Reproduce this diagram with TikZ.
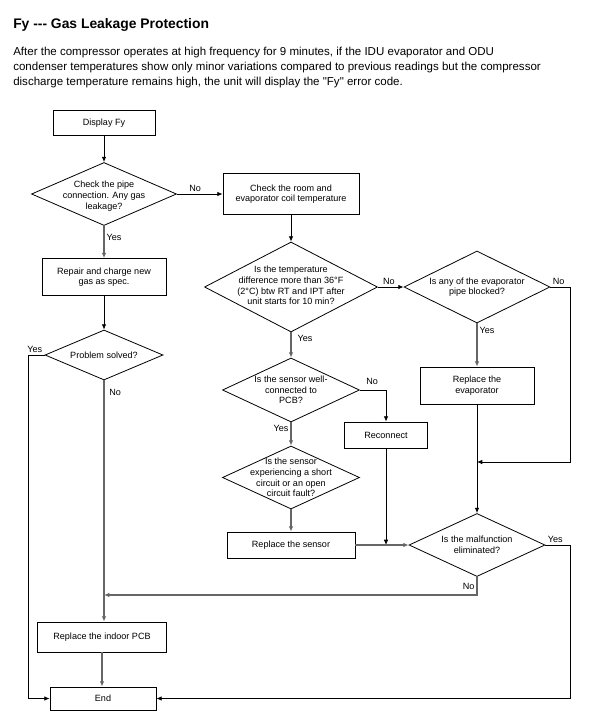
\documentclass[tikz,border=0pt]{standalone}
\usepackage{fontspec}
\setmainfont{Liberation Sans}
\usetikzlibrary{shapes.geometric, arrows.meta, positioning}

\newcommand{\chartfont}{\fontsize{6.8}{8}\selectfont}

\tikzset{
    stepbox/.style={rectangle, draw, line width=0.6pt, font=\chartfont, align=center, inner sep=1pt},
    decision/.style={diamond, draw, line width=0.6pt, inner sep=0pt},
    dtext/.style={font=\chartfont, align=center, inner sep=0pt},
    line/.style={line width=0.6pt, draw=black},
    gline/.style={line width=0.9pt, draw=black!60},
    arr/.style={line, -{Latex[length=4pt,width=3.4pt]}},
    garr/.style={gline, -{Latex[length=4pt,width=3.4pt]}},
    tag/.style={font=\chartfont, inner sep=1.5pt}
}

\begin{document}
\begin{tikzpicture}[x=0.75pt, y=-0.75pt]
    \useasboundingbox (0,0) rectangle (596,725);

    % Heading
    \node (title) [anchor=west, inner sep=0pt, font=\fontsize{10.4}{12}\selectfont\bfseries] at (13,24.5) {Fy -{}-{}- Gas Leakage Protection};
    \node (intro) [anchor=west, inner sep=0pt, align=left, font=\fontsize{8.65}{10.9}\selectfont] at (13,67.5) {After the compressor operates at high frequency for 9 minutes, if the IDU evaporator and ODU\\condenser temperatures show only minor variations compared to previous readings but the compressor\\discharge temperature remains high, the unit will display the \textquotedbl{}Fy\textquotedbl{} error code.};

    % Nodes
    \node (disp) [stepbox, minimum width=76.5pt, minimum height=18.75pt] at (104,123) {Display Fy};
    \node (leak) [decision, minimum width=108.75pt, minimum height=47.25pt] at (104,194) {};
    \node (leak-t) [dtext] at ([yshift=-1.5pt]leak) {Check the pipe\\connection. Any gas\\leakage?};
    \node (room) [stepbox, minimum width=102pt, minimum height=30.75pt] at (291,194) {Check the room and\\evaporator coil temperature};
    \node (repair) [stepbox, minimum width=93pt, minimum height=27.75pt] at (104,277) {Repair and charge new\\gas as spec.};
    \node (solved) [decision, minimum width=88.5pt, minimum height=37.5pt] at (104,355) {};
    \node (solved-t) [dtext] at (solved) {Problem solved?};

    \node (tempdiff) [decision, minimum width=129.75pt, minimum height=67.5pt] at (291,287) {};
    \node (tempdiff-t) [dtext] at ([yshift=1pt]tempdiff) {Is the temperature\\difference more than 36°F\\(2°C) btw RT and IPT after\\unit starts for 10 min?};
    \node (blocked) [decision, minimum width=109.5pt, minimum height=54pt] at (477,287) {};
    \node (blocked-t) [dtext] at (blocked) {Is any of the evaporator\\pipe blocked?};
    \node (evap) [stepbox, minimum width=85.5pt, minimum height=27.75pt] at (477,385.5) {Replace the\\evaporator};

    \node (wired) [decision, minimum width=102.75pt, minimum height=48pt] at (291,390) {};
    \node (wired-t) [dtext] at (wired) {Is the sensor well-\\connected to\\PCB?};
    \node (recon) [stepbox, minimum width=62.25pt, minimum height=19.5pt] at (386,435) {Reconnect};
    \node (short) [decision, minimum width=102.75pt, minimum height=47.25pt] at (291,477.5) {};
    \node (short-t) [dtext] at (short) {Is the sensor\\experiencing a short\\circuit or an open\\circuit fault?};
    \node (sensor) [stepbox, minimum width=96pt, minimum height=19.5pt] at (291,545) {Replace the sensor};
    \node (fixed) [decision, minimum width=102pt, minimum height=47.25pt] at (477,545) {};
    \node (fixed-t) [dtext] at (fixed) {Is the malfunction\\eliminated?};

    \node (pcb) [stepbox, minimum width=96.75pt, minimum height=22.5pt] at (102,637) {Replace the indoor PCB};
    \node (end) [stepbox, minimum width=79.5pt, minimum height=17.25pt] at (103,698.5) {End};

    % Corners and joins
    \coordinate (join-evap) at (477,462);
    \coordinate (join-sensor) at (386,545);
    \coordinate (join-pcb) at (104,595);
    \coordinate (right-a) at (570,462);
    \coordinate (right-b) at (570,698.5);
    \coordinate (left-a) at (28,698.5);

    % Arrows
    \draw[arr] (disp) -- (leak);
    \draw[arr] (leak.east) -- (room.west) node[pos=0.4, above, tag] {No};
    \draw[garr] (leak.south) -- (repair.north) node[pos=0.35, right, tag] {Yes};
    \draw[arr] (repair) -- (solved);
    \draw[arr] (solved.west) node[above left, tag] {Yes} -| (left-a) -- (end.west);
    \draw[garr] (solved.south) -- (solved.south |- pcb.north) node[pos=0.05, right, tag, xshift=2pt] {No};
    \draw[garr] (pcb.south) -- (pcb.south |- end.north);

    \draw[arr] (room) -- (tempdiff);
    \draw[arr] (tempdiff.east) -- (blocked.west) node[pos=0.43, above, tag] {No};
    \draw[garr] (tempdiff.south) -- (wired.north) node[pos=0.25, right, tag, xshift=3pt] {Yes};
    \draw[garr] (blocked.south) -- (evap.north) node[pos=0.16, right, tag] {Yes};
    \draw[arr] (blocked.east) node[above right, tag] {No} -| (right-a) -- (join-evap);
    \draw[arr] (evap.south) -- (fixed.north);

    \draw[arr] (wired.east) node[above right, tag, xshift=3pt, yshift=2pt] {No} -| (recon.north);
    \draw[garr] (wired.south) -- (short.north) node[pos=0.25, left, tag] {Yes};
    \draw[arr] (recon.south) -- (join-sensor);
    \draw[garr] (short.south) -- (sensor.north);
    \draw[garr] (sensor.east) -- (fixed.west);

    \draw[arr] (fixed.east) node[above right, tag] {Yes} -| (right-b) -- (end.east);
    \draw[garr] (fixed.south) |- (join-pcb) node[pos=0.25, left, tag] {No};
\end{tikzpicture}
\end{document}
